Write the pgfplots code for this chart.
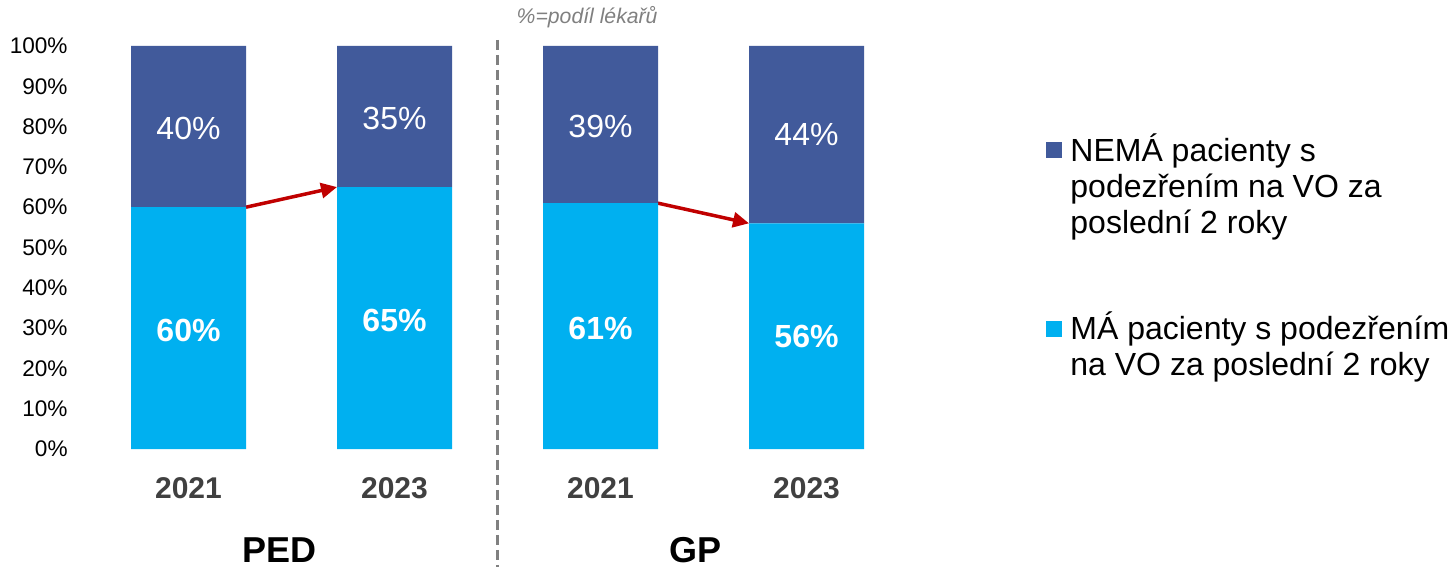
\documentclass[border=0pt]{standalone}
\usepackage{fontspec}
\setmainfont{Liberation Sans}
\usepackage{pgfplots}
\pgfplotsset{compat=1.18}
\usetikzlibrary{arrows.meta}
\definecolor{darkb}{RGB}{65,90,155}
\definecolor{lightb}{RGB}{0,176,240}
\definecolor{arrred}{RGB}{192,0,0}
\definecolor{yeargray}{RGB}{64,64,64}
\definecolor{notegray}{RGB}{128,128,128}
\definecolor{dashgray}{RGB}{128,128,128}
\begin{document}
\begin{tikzpicture}
\path[use as bounding box] (-42.75pt,-59pt) rectangle (684.75pt,224.5pt);
\begin{axis}[
  at={(0,0)}, anchor=south west,
  scale only axis, width=412pt, height=201.5pt,
  xmin=-0.5, xmax=3.5, ymin=0, ymax=100,
  ybar stacked, bar width=57.5pt,
  axis line style={draw=none},
  major tick length=0pt,
  xtick={0,1,2,3}, xticklabels={2021,2023,2021,2023},
  xticklabel style={font=\fontsize{15pt}{18pt}\selectfont\bfseries, text=yeargray, anchor=center, yshift=-19.5pt},
  ytick={0,10,...,100},
  yticklabel={\pgfmathprintnumber{\tick}\%},
  yticklabel style={font=\fontsize{11.3pt}{13pt}\selectfont, anchor=east, inner sep=0pt, xshift=-8.75pt},
  /pgf/number format/assume math mode=true,
  clip=false,
]
\addplot[fill=lightb, draw=none] coordinates {(0,60) (1,65) (2,61) (3,56)};
\addplot[fill=darkb, draw=none] coordinates {(0,40) (1,35) (2,39) (3,44)};

\coordinate (a1) at (axis cs:0,29.5);
\coordinate (a2) at (axis cs:1,32);
\coordinate (a3) at (axis cs:2,30);
\coordinate (a4) at (axis cs:3,28);
\coordinate (b1) at (axis cs:0,79.5);
\coordinate (b2) at (axis cs:1,82);
\coordinate (b3) at (axis cs:2,80);
\coordinate (b4) at (axis cs:3,78);

\draw[arrred, line width=1.75pt, -{Triangle[length=8pt,width=7.5pt]}] (axis cs:0.279,60) -- (axis cs:0.721,65);
\draw[arrred, line width=1.75pt, -{Triangle[length=8pt,width=7.5pt]}] (axis cs:2.279,61) -- (axis cs:2.721,56);

\draw[dashgray, line width=1.5pt, dash pattern=on 5pt off 2.5pt] (axis cs:1.5,101.5) -- (axis cs:1.5,-29.3);

\node[font=\fontsize{18pt}{20pt}\selectfont\bfseries] at (axis cs:0.444,-25.06) {PED};
\node[font=\fontsize{18pt}{20pt}\selectfont\bfseries] at (axis cs:2.459,-25.06) {GP};
\node[font=\fontsize{10.6pt}{12pt}\selectfont\itshape, text=notegray] at (axis cs:1.935,107.2) {\%=podíl lékařů};
\end{axis}
% bar value labels (drawn on top of the bars)
\begin{scope}[every node/.style={text=white, font=\fontsize{16pt}{18pt}\selectfont\bfseries}]
\node at (a1) {60\%};
\node at (a2) {65\%};
\node at (a3) {61\%};
\node at (a4) {56\%};
\end{scope}
\begin{scope}[every node/.style={text=white, font=\fontsize{16pt}{18pt}\selectfont}]
\node at (b1) {40\%};
\node at (b2) {35\%};
\node at (b3) {39\%};
\node at (b4) {44\%};
\end{scope}
% legend
\fill[darkb] (480.25pt,145.25pt) rectangle (488.25pt,153.25pt);
\fill[lightb] (480.25pt,56pt) rectangle (488.25pt,64pt);
\begin{scope}[every node/.style={anchor=base west, inner sep=0pt, font=\fontsize{16pt}{18pt}\selectfont}]
\node at (492.25pt,143.65pt) {NEMÁ pacienty s};
\node at (492.25pt,125.85pt) {podezřením na VO za};
\node at (492.25pt,107.85pt) {poslední 2 roky};
\node at (492.25pt,54.5pt) {MÁ pacienty s podezřením};
\node at (492.25pt,36.5pt) {na VO za poslední 2 roky};
\end{scope}
\end{tikzpicture}
\end{document}
